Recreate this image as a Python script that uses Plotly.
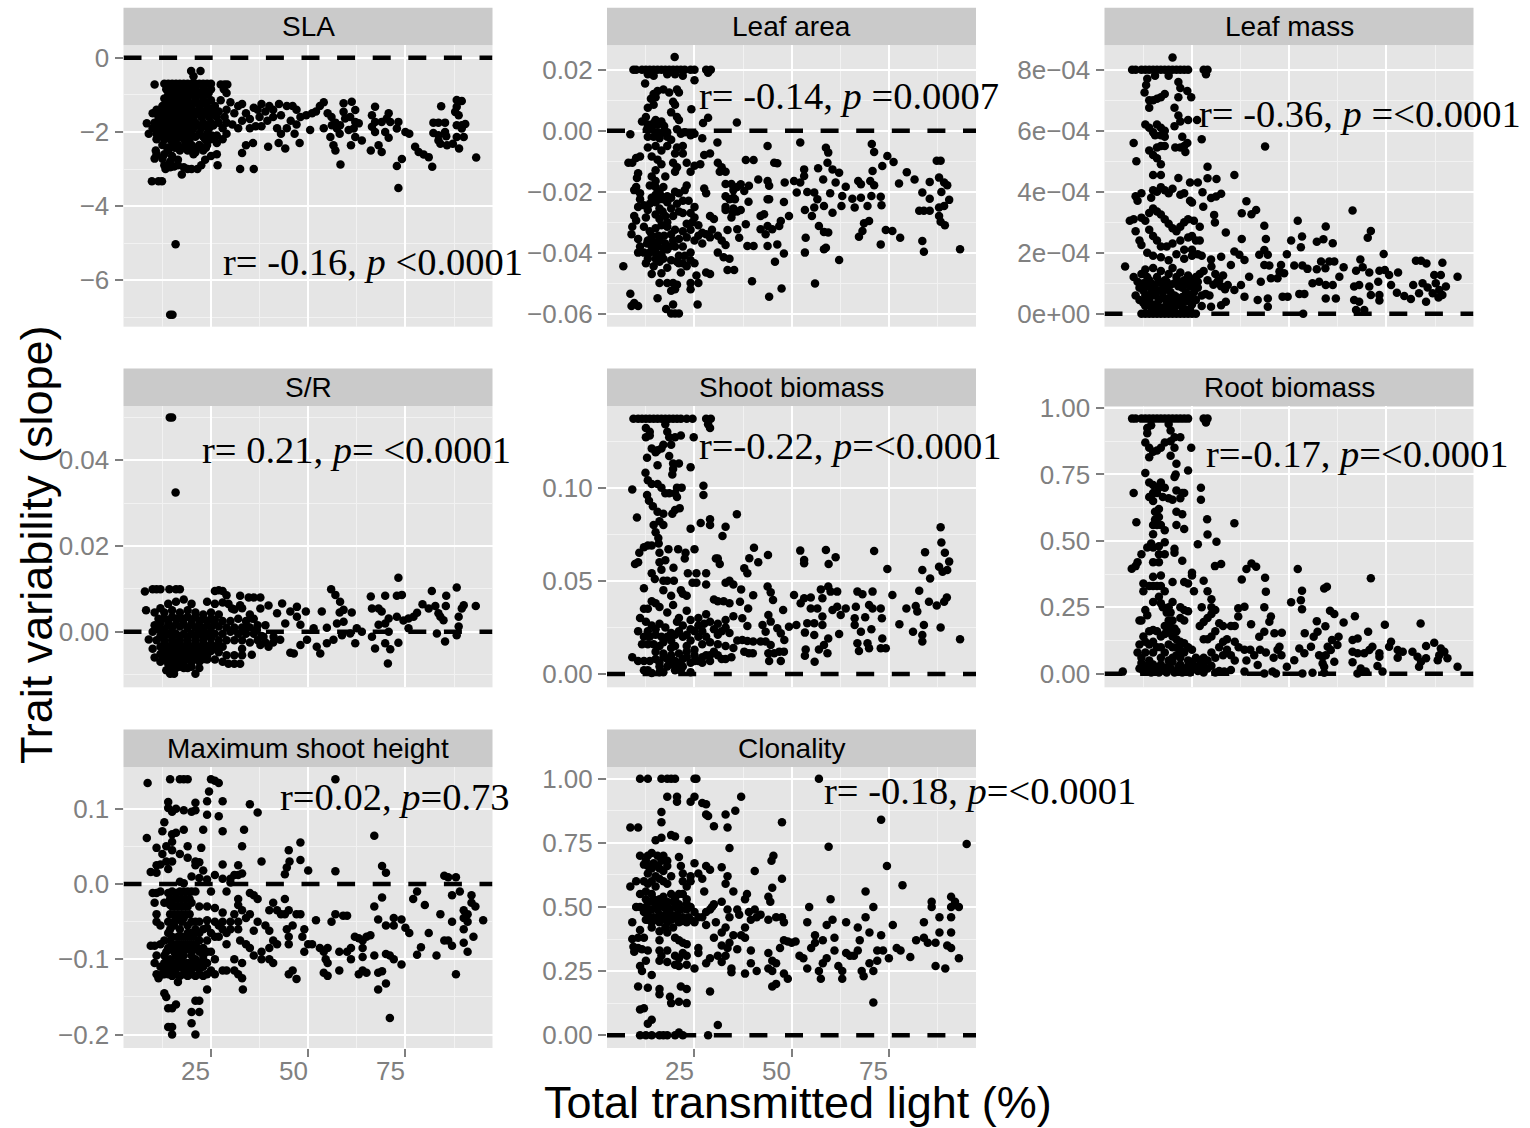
import plotly.graph_objects as go

X_TICKS = [25, 50, 75]
X_MINOR = [12.5, 37.5, 62.5, 87.5]

sla = [(15.9,-5.03),(14.5,-6.93),(15.1,-6.93),(19.9,-.36),(22.3,-.36),(20.5,-.5),
(10.5,-.72),(13,-.7),(14,-.7),(15,-.7),(16,-.7),(17,-.7),(18,-.7),(19,-.7),(20,-.7),(21,-.7),(22,-.7),(23,-.7),(24,-.7),(25,-.7),(27.5,-.72),(28.5,-.72),(29.2,-.72),
(13.5,-.85),(15,-.85),(16.5,-.85),(18,-.85),(19.5,-.85),(21,-.85),(23,-.85),(25,-.85),(28.3,-.85),(29,-.95),
(14,-1),(15.5,-1),(17,-1),(18.5,-1),(20,-1),(22,-1),(24,-1),(13,-1.1),(14.5,-1.15),(16,-1.15),(17.5,-1.15),(19,-1.15),(21,-1.15),(23,-1.15),(25,-1.15),(27.5,-1.15),
(12.5,-1.3),(14,-1.3),(15.5,-1.3),(17,-1.3),(18.5,-1.3),(20,-1.3),(22,-1.3),(24,-1.3),(26,-1.3),(11,-1.4),(10,-1.5),(12,-1.45),(13.5,-1.45),(15,-1.45),(16.5,-1.45),(18,-1.45),(19.5,-1.45),(21,-1.45),(23,-1.45),(25,-1.45),(27,-1.45),
(11.5,-1.6),(13,-1.6),(14.5,-1.6),(16,-1.6),(17.5,-1.6),(19,-1.6),(20.5,-1.6),(22.5,-1.6),(24.5,-1.6),(26.5,-1.6),(28.5,-1.6),(8.5,-1.77),(10.5,-1.75),(12,-1.75),(13.5,-1.75),(15,-1.75),(16.5,-1.75),(18,-1.75),(19.5,-1.75),(21,-1.75),(23,-1.75),(25,-1.75),(27,-1.75),(29,-1.75),
(10,-1.9),(11.5,-1.9),(13,-1.9),(14.5,-1.9),(16,-1.9),(17.5,-1.9),(19,-1.9),(20.5,-1.9),(22.5,-1.9),(24.5,-1.9),(28,-1.9),(9,-2.05),(11,-2.05),(12.5,-2.05),(14,-2.05),(15.5,-2.05),(17,-2.05),(18.5,-2.05),(20,-2.05),(22,-2.05),(24,-2.05),(26.5,-2.1),(29,-2.05),
(11,-2.2),(13,-2.2),(14.5,-2.2),(16,-2.2),(18,-2.2),(19.5,-2.2),(23.5,-2.2),(25,-2.2),(28,-2.2),(12.5,-2.35),(15,-2.35),(16.5,-2.35),(18.5,-2.35),(20,-2.35),(22,-2.35),(24,-2.35),(26.5,-2.3),(10.8,-2.5),(14,-2.5),(17,-2.5),(19,-2.5),(21,-2.55),(23,-2.5),(11,-2.6),(13,-2.6),(15,-2.65),(20.5,-2.6),(25,-2.65),(26.5,-2.6),
(10.5,-2.72),(12.5,-2.72),(14.5,-2.8),(16.5,-2.75),(23.5,-2.75),(13,-2.9),(13.3,-3),(16.5,-2.9),(18,-2.95),(20,-3),(21.5,-3),(22.5,-2.9),(9.8,-3.33),(11.5,-3.33),(12.4,-3.33),(17.5,-3.15),
(14.7,-.92),(16.2,-.94),(17.8,-.92),(19.2,-.93),(20.8,-.95),(22.5,-.93),(24.4,-.95),(13.5,-1.22),(15,-1.22),(16.7,-1.23),(18.2,-1.22),(19.7,-1.23),(21.5,-1.22),(23.4,-1.23),(12.8,-1.52),(14.3,-1.53),(15.7,-1.52),(17.2,-1.53),(18.8,-1.52),(20.3,-1.53),(22,-1.52),(24,-1.53),(26,-1.52),(12.3,-1.83),(13.8,-1.83),(15.3,-1.83),(16.8,-1.82),(18.3,-1.83),(19.8,-1.83),(21.7,-1.83),(23.7,-1.83),(25.6,-1.83),(11.8,-2.12),(13.3,-2.12),(14.8,-2.13),(16.4,-2.12),(17.8,-2.13),(19.4,-2.12),(21,-2.13),(23,-2.13),(25.2,-2.1),(13.7,-2.42),(15.7,-2.43),(17.7,-2.42),(19.6,-2.43),(21.5,-2.42),(23.7,-2.43),(14.5,-2.95),(15.5,-2.93),(19,-3),
(26.7,-2.9),(32.5,-3),(36,-3),(33,-2.57),(34,-2.36),(35.8,-2.3),(39.7,-2.4),(42.4,-2.3),(44.1,-2.45),(47.8,-2.3),(58.3,-2.88),
(29,-1.4),(30,-1.2),(31,-1.5),(32,-1.3),(33,-1.25),(34,-1.5),(35,-1.65),(36,-1.35),(37,-1.4),(38,-1.25),(39,-1.45),(40,-1.3),(41,-1.4),(30.5,-1.8),(32,-1.9),(33,-1.7),(35,-1.9),(36.5,-1.85),(38,-1.85),(37.5,-1.6),(39.5,-1.7),(41,-1.6),(42.5,-1.25),(43,-1.55),(44.5,-1.3),(46,-1.3),(47,-1.4),(42,-1.9),(43,-2.05),(44.5,-1.9),(45.5,-1.7),(47,-1.8),(46.5,-2.05),(48,-1.6),(49.5,-1.55),(50.5,-1.95),(51,-1.5),(52,-1.45),(53,-1.3),(54,-1.2),(55,-1.5),(54,-1.9),(56,-1.6),(57,-1.75),
(60.8,-1.6),(62.1,-1.73),(63,-1.77),(61.7,-1.91),(60.4,-1.95),(59.1,-1.23),(59.1,-1.46),(59.5,-1.64),(58.2,-1.82),(57.4,-1.91),(56.1,-1.82),(55.7,-2.14),(56.5,-2.36),(57,-2.5),(58.1,-2.05),(61.2,-1.19),(62.1,-1.41),(63.8,-2.23),(62.1,-2.14),(61,-2.36),(70.7,-1.5),(70.2,-1.64),(71.1,-1.73),(69.8,-2),(70.7,-2.16),(68.9,-1.73),(67.2,-1.32),(66.4,-1.55),(67.2,-1.73),(66.4,-1.86),(67.2,-2),(68.1,-2.36),(68.9,-2.54),(66.1,-2.5),
(72.8,-2.92),(74.1,-2.73),(73.2,-3.51),(72.8,-1.91),(73.2,-1.73),(75,-2),(76,-2.05),(77.5,-2.4),(78.4,-2.54),(79.7,-2.61),(81,-2.68),(81.9,-2.94),(84.2,-1.31),(82.2,-1.75),(83.5,-1.75),(85.2,-1.75),(82.2,-2.03),(83.5,-2.09),(83.5,-2.23),(84,-2.32),(85.2,-2),(85.5,-2.12),(85.7,-2.36),(87.2,-2.32),(88.8,-2.45),(88.2,-1.14),(89.5,-1.17),(88.2,-1.32),(87.8,-1.46),(88.7,-1.55),(88.2,-1.82),(89.5,-1.82),(90.4,-1.79),(89.5,-1.91),(88.2,-2.14),(90,-2.14),(93.2,-2.69)]

leaf_area = [(19.9,.0242),(9.3,.02),(10,.02),(11.5,.02),(12.5,.02),(13.5,.02),(14.5,.02),(15.5,.02),(16.5,.02),(17.5,.02),(18.5,.02),(19.5,.02),(20.5,.02),(21.5,.02),(22.5,.02),(24,.02),(25,.02),(28,.02),(29.2,.02),(28.5,.019),(13,.0185),(14.5,.018),(18,.0185),(20,.0185),(22,.018),(25,.0165),(12.3,.0155),
(17,.0135),(15.5,.013),(14.5,.012),(18.5,.0125),(20.5,.0135),(21,.0125),(13.8,.0105),(15,.011),(19.5,.0095),(20,.0085),(13,.0075),(14.5,.0085),(24.2,.007),(12.5,.0045),(15,.0035),(19,.006),(20.5,.0045),(21,.0035),(28.5,.0042),(27.2,.0025),(35.9,.0027),
(11.5,.003),(13,.002),(14.5,.0025),(15.5,.002),(16.5,.003),(17.2,.0015),(12.8,.0005),(14,.0005),(15.5,-.0005),(17,-.0005),(18,-.0005),(20.5,.0005),(21.5,-.001),(22.5,-.0005),(24,-.0015),(25,-.001),(8.5,-.0012),(13,-.002),(14.5,-.002),(16,-.0025),(18,-.002),(19,-.003),(27,-.0025),(30.9,-.0039),(20.5,-.0055),(22,-.005),
(13,-.0055),(15,-.005),(16.5,-.0065),(18,-.005),(29,-.0075),(27.5,-.008),(20,-.0075),(22,-.0075),(10,-.009),(11,-.0085),(8,-.0105),(9,-.0105),(14,-.0085),(15.5,-.0095),(16.5,-.011),(19.5,-.0105),(20.5,-.012),(23,-.0105),(25,-.0115),(26.5,-.011),(24,-.0135),(20,-.0135),
(31,-.0105),(32,-.012),(33,-.0135),(31.5,-.0135),(10.5,-.014),(10.2,-.0155),(14,-.015),(15,-.013),(15,-.0165),(17.5,-.015),(9.5,-.0195),(10,-.0185),(11,-.0205),(13.5,-.018),(15,-.0185),(16,-.02),(17,-.0185),(18,-.0215),(19,-.022),(20,-.02),(21,-.0205),(22.5,-.0195),(23,-.018),(27.5,-.019),(28,-.0205),(33,-.0175),(34.5,-.0175),(35,-.0195),(36,-.0185),
(11,-.0225),(12,-.0245),(13.5,-.024),(15,-.0235),(16,-.0225),(17,-.0225),(18,-.0235),(22,-.023),(23.5,-.023),(10.5,-.025),(13,-.026),(16,-.0255),(25,-.025),(33,-.0215),(34,-.0225),(35,-.022),(33,-.025),(35,-.0255),(9.5,-.028),(10,-.0295),(12.5,-.0285),(15,-.0275),(16,-.029),(18,-.03),(19.5,-.028),(21,-.0265),(22,-.027),(24,-.027),(25,-.0285),(29,-.028),(30,-.029),(33,-.026),(36,-.0265),(34.5,-.0285),
(9,-.0315),(8.8,-.034),(12,-.0315),(13.5,-.033),(15,-.032),(16.5,-.031),(18,-.0315),(20,-.0325),(22,-.033),(24,-.0325),(26,-.031),(27,-.0335),(10.5,-.0355),(11,-.038),(13,-.036),(14.5,-.0365),(16,-.036),(17.5,-.037),(19.5,-.036),(21,-.0355),(23,-.035),(25,-.036),(27,-.037),(29,-.035),(31,-.0345),(32,-.036),(33,-.0375),(10.5,-.04),(12,-.04),(13.5,-.04),(15,-.04),(16.5,-.0405),(18,-.039),(21,-.041),(22.5,-.041),(24,-.04),(31,-.04),(32.5,-.0415),(34,-.042),
(12.5,-.0435),(14.5,-.0445),(16,-.043),(18,-.045),(21,-.0435),(23,-.0445),(25,-.0435),(6.7,-.0445),(14,-.047),(16.5,-.0468),(21.5,-.0465),(28,-.0465),(29,-.047),(25.5,-.0475),(16,-.05),(18,-.05),(19.5,-.05),(20.5,-.0505),(24,-.05),(26,-.05),(19,-.0525),(20,-.052),(24,-.052),(8.5,-.0535),(15.5,-.055),(8.8,-.0575),(9.5,-.0565),(10.5,-.0575),(17.7,-.0585),(19.5,-.057),(25.8,-.057),(19,-.06),(20,-.06),(21,-.06),
(12.8,-.037),(14,-.038),(15.5,-.038),(17,-.0385),(18.5,-.038),(20,-.038),(22,-.038),(14,-.0345),(15.7,-.0345),(17.2,-.0345),(19,-.034),(13,-.042),(15,-.042),(17,-.042),(19,-.0425),(20.5,-.043),(22,-.0435),(24,-.0425),(17.5,-.028),(16.8,-.0265),(19,-.0255),(20.5,-.024),(14,-.022),(15,-.021),(16.5,-.0215),(28,-.034),(29.5,-.0325),(23,-.0305),(24.5,-.03),(26,-.0345),
(43.8,-.005),(52.2,-.0039),(58.8,-.0056),(59.4,-.0072),(70.6,-.0044),(71.2,-.007),(74.6,-.0083),(73.3,-.0116),(76.2,-.0103),(79.6,-.0136),(81.6,-.016),(77.6,-.0173),(70.8,-.0132),(70.2,-.0165),(71.2,-.0179),(67.1,-.0165),(67.8,-.0176),(63.9,-.0184),(63,-.0214),(65.6,-.0223),(67.8,-.022),(70.5,-.0214),(72.9,-.0217),(66.2,-.0252),(69.5,-.0247),(73.1,-.0245),(62.8,-.0247),(69.9,-.0296),(68.6,-.0304),(68.2,-.0329),(67.3,-.0348),(74.2,-.0326),(75.9,-.0329),(77.9,-.0351),(72.9,-.0373),(83.6,-.0203),(85.5,-.0168),(85.5,-.0223),(87.3,-.0099),(88.3,-.0099),(87.9,-.0154),(89.2,-.017),(90,-.0179),(88.5,-.0201),(90.5,-.0227),(89.2,-.0247),(87.9,-.0252),(82.8,-.0263),(84,-.0263),(85.5,-.0263),(87.9,-.028),(88.3,-.0299),(89.4,-.031),(83.6,-.0362),(84,-.0397),(93.3,-.0389),
(62.2,-.0424),(58.8,-.0384),(58.3,-.0389),(57,-.0313),(58.3,-.0332),(59.4,-.0334),(53.6,-.0351),(53.4,-.04),(56,-.0501),(47.4,-.0518),(44.2,-.0545),(45.7,-.043),(48,-.0403),(46.3,-.0373),(43.8,-.0378),(39.8,-.0494),(49.3,-.028),(48,-.0234),(44.2,-.0225),(43.8,-.0225),(48.2,-.017),(43.8,-.0165),(44.2,-.0181),(41.4,-.016),(38.2,-.0096),(40.2,-.0096),(45.5,-.0105),(46.3,-.0107),(50.6,-.0165),(52.2,-.017),(53.2,-.0127),(53.2,-.0149),(51.3,-.0203),(56.8,-.0123),(58.1,-.016),(59.2,-.0105),(60.5,-.0127),(62.2,-.0138),(61.3,-.017),(59.9,-.0205),(54,-.0201),(55.8,-.0203),(56.6,-.0225),(58.3,-.0247),(60.5,-.0269),(53.4,-.026),(55.2,-.028),(55.8,-.0252),
(36.9,-.0176),(37.8,-.0198),(39,-.0181),(35.4,-.0225),(36.9,-.026),(38.9,-.0233),(34.8,-.0269),(38.2,-.0307),(36,-.0323),(36.5,-.0351),(38.6,-.0378),(40.2,-.0378),(33.5,-.0326),(42.9,-.0274),(42,-.028),(42,-.0323),(43.8,-.0313),(45,-.0323),(43.3,-.034),(46.8,-.0313),(47.2,-.0296),(33.5,-.0457),(35.2,-.0457)]

leaf_mass_e4 = [(20,8.4),(9.6,8),(10.5,8),(12,8),(13,8),(14,8),(15,8),(16,8),(17,8),(18,8),(19,8),(20,8),(21,8),(22,8),(23,8),(24,8),(28,8),(29,8),(28.6,7.85),(13.5,7.7),(15.5,7.8),(19,7.8),(21.5,7.6),(13.2,7.5),(12.8,7.25),(14,7),(15,7),(16,7.05),(17,7.1),(18,7.2),(22,7.4),(21.5,7.1),(23.8,7.3),(24.8,7.1),(14,6.75),
(20.5,6.75),(21.5,6.5),(22,6.3),(20.5,6.15),(24,6.35),(13,6.2),(14,6.1),(15,5.95),(16,6.2),(17,6.1),(18,6),(15.5,5.85),(17,5.85),(18,5.8),(22.5,5.8),(10,5.6),(16,5.45),(17,5.5),(18,5.5),(20.7,5.45),(22,5.45),(23,5.5),(23.8,5.6),(23.3,5.3),(14,5.35),(15,5.2),(16,5.1),(17,4.9),(10.7,5),(26.3,6.35),(15,4.55),(17,4.55),(21.5,4.45),(24.5,4.3),
(15,4.05),(16,4),(17,4.15),(18,4.05),(19,3.95),(20,4.1),(10.5,3.85),(11,3.7),(12,3.95),(14.5,3.8),(22,3.9),(23,3.95),(24.5,3.7),(25,3.65),
(9,3.05),(10,3.1),(12,3.15),(13,3.05),(14,3.3),(15,3.45),(16,3.35),(17,3.25),(18,3.1),(19,2.95),(20,2.8),(22,2.85),(23,3),(24,3.1),(25.5,3.05),(27,2.85),(10.5,2.7),(14,2.75),(21,2.7),(25,2.55),(26,2.4),(27,2.4),
(11.5,2.4),(12,2.25),(15,2.55),(16,2.4),(17,2.2),(18.5,2.2),(20,2.3),(22,2.4),(24,2.5),(23,2.1),(25,2.1),(13.5,2),(15,1.9),(17,1.85),(19,1.75),(21,1.95),(23,1.8),(25,1.9),(26.5,1.95),(27.5,1.9),
(7.8,1.55),(10,1.2),(11,1.05),(12,1.3),(13,1.45),(14,1.1),(15,1.5),(16,1.2),(17,1.4),(18,1.1),(19,1.3),(20,1.5),(21,1.2),(22,1.35),(23,1.1),(24,1.25),(25,1.1),(26,1.2),(27,1.3),(28,1.4),(29,1.1),(30,1.55),(31,1.3),(32,1.1),(33,1.25),(11.5,.85),(12.5,.75),(13.5,.9),(14.5,.7),(15.5,.95),(16.5,.75),(17.5,.95),(18.5,.8),(19.5,.95),(20.5,.6),(21.5,.9),(22.5,.85),(23.5,.7),(24.5,.9),(25.5,.7),(26.5,.85),(27.5,.6),(28.5,.65),(29.5,.6),(30.5,.95),(31.5,1.05),(32.5,.9),(33.5,.8),
(10.5,.6),(11.5,.45),(12.5,.35),(13.5,.5),(14.5,.2),(15.5,.3),(16.5,.45),(17.5,.55),(18.5,.35),(19.5,.15),(21.5,.3),(22.5,.2),(23.5,.4),(24.5,.15),(26,.45),(27.5,.25),(12,0),(13,0),(14,0),(15,0),(16,0),(17,0),(18,0),(19,0),(20,0),(21,0),(22,0),(23,0),(24,0),(25,0),(26,0),
(12.5,1),(13.5,1.2),(14.5,1),(15.5,.6),(16.5,1.05),(17.5,.7),(18.5,1.05),(19.5,.7),(20.5,1),(21.5,1.05),(22.5,.55),(23.5,1),(24.5,.55),(25.5,.9),(26.5,1.05),(13,.6),(14,.45),(15,.75),(16,.3),(17,.2),(18,.5),(19,.5),(20,.35),(21,.55),(22,.4),(13,.25),(16,.15),(18,.15),(20.5,.2),(23,.15),(25,.3),
(29,4.82),(26.5,4.3),(29,4.44),(31.3,4.42),(27.7,3.98),(29.9,3.79),(31.2,3.84),(32.5,3.93),(35.9,4.55),(27.5,5.72),(43.8,5.48),(27.9,3.51),(30.7,3.24),(30.9,2.99),(33.7,2.66),(39,3.69),(37.8,3.29),(40.3,3.26),(41.5,3.4),(43.6,2.88),(44,2.45),(37.8,2.45),(35.9,2.04),(37.2,1.93),(38.5,1.76),(35,1.6),(32.5,1.87),(29.9,1.78),(43.6,2.09),(42.3,1.93),(44.5,1.93),(43.6,1.6),(44.9,1.58),(47.9,1.6),(47.5,1.38),(49.4,1.95),(50.5,2.4),(53.3,2.53),(52.2,3.05),(53,2.18),(51.3,1.58),(53.4,1.58),(54.7,1.47),(57.1,2.36),(58.8,2.44),(61.2,2.31),(59.4,2.86),(58.2,1.71),(60.3,1.71),(61.6,1.71),(64,1.52),(57.1,1.46),(59.3,1.49),(66.3,3.38),(70.2,2.49),(71,2.71),(68.3,1.78),(67.2,1.41),(68.9,1.52),(70.6,1.35),(74.3,1.96),(73.2,1.41),(74.6,1.43),(72.9,1.05),(75.7,1.27),(78,1.35),(76.2,.94),(77.7,.69),(79.6,.58),(81.3,.48),(81.9,.94),(83.4,.67),(84.3,1),(85.6,.86),(82.6,1.74),(83.9,1.74),(85.3,1.65),(85.2,.39),(89.4,1.67),(87.3,1.27),(89,1.27),(87.7,1),(90.3,.89),(88.6,.78),(86.9,.67),(89.4,.61),(88.4,.53),(93.3,1.21),
(34.2,.94),(37.6,.94),(39.7,1.21),(42.7,1.05),(45.3,1.16),(47,1.16),(48.7,1.33),(35.9,.78),(38.5,.56),(41.9,.45),(44.5,.5),(48.3,.56),(49.6,.56),(29.9,.23),(32.5,.28),(33.7,.39),(44.5,.23),(52.6,.65),(53.9,.65),(56,1),(57.7,1.05),(59.4,.94),(61.2,.94),(62.9,1.21),(59.4,.5),(62,.5),(66.7,.89),(68,.94),(66.7,.45),(68,.39),(70.6,.89),(71,.61),(73.2,.61),(73.2,.43),(67.2,.12),(69.3,.12),(53.6,0)]

sr = [(15.9,.0325),(14.4,.05),(15,.05),(8,.0094),(10,.0099),(11,.0099),(12,.0099),(14.3,.0099),(16,.0099),(17,.0099),(26,.0095),(27,.0097),(28,.0095),(29,.0085),(8.3,.005),(10.5,.0045),(12,.0055),(14,.0065),(16,.007),(18,.0075),(20,.0065),(24,.007),(26,.0065),(28,.0068),(29.5,.0065),
(11.5,.003),(13,.0045),(15,.005),(17,.0045),(19,.005),(21,.0045),(23,.004),(25,.0045),(27,.004),(31,.0052),(33,.0055),(35,.004),(10.5,.0015),(12,.002),(14,.0025),(16,.003),(18,.003),(20,.0028),(22,.0025),(24,.0025),(26,.0028),(28,.0025),(30,.0025),(32,.003),(34,.0025),(36,.003),(10,0),(11.5,.0005),(13,.0005),(15,.001),(17,.0012),(19,.0008),(21,.001),(23,.0005),(25,.001),(27,.0012),(29,.001),(31,.001),(33,.001),(35,.001),(37,.0015),(39,.0015),
(12,-.001),(14,-.0005),(16,-.0005),(18,-.0005),(20,-.0005),(22,-.0005),(24,-.0005),(26,-.0005),(28,-.0005),(30,0),(32,-.0005),(34,-.0005),(36,-.0005),(38,-.001),(9,-.0018),(11,-.002),(13,-.002),(15,-.002),(17,-.002),(19,-.002),(21,-.002),(23,-.002),(25,-.0015),(27,-.002),(29,-.002),(31,-.002),(33,-.002),(35,-.0025),(37,-.002),(39,-.0025),(41,-.0025),
(10,-.004),(12,-.0035),(14,-.0035),(16,-.004),(18,-.0035),(20,-.0035),(22,-.0035),(24,-.0035),(26,-.0035),(28,-.0035),(33,-.004),(10.5,-.006),(12,-.0052),(14,-.0055),(16,-.0055),(18,-.0055),(20,-.0055),(22,-.0055),(24,-.0055),(29,-.0055),(31,-.0055),(33,-.0055),(12,-.007),(14,-.0075),(16,-.007),(18,-.0072),(20,-.007),(22,-.007),(24,-.0065),(26,-.0065),(28,-.007),(29.5,-.0075),(31,-.0075),(32.5,-.0075),(13.5,-.009),(14.5,-.0098),(15.5,-.0098),(16,-.0085),(19,-.0085),(21,-.0098),(22,-.0085),
(13,.0032),(15,.0035),(17,.0032),(19,.0035),(21,.0035),(23,.003),(25,.003),(13,-.0008),(15,-.0012),(17,-.0012),(19,-.0012),(21,-.0012),(23,-.0012),(25,-.001),(13,-.0028),(15,-.0028),(17,-.0028),(19,-.0028),(21,-.0028),(23,-.0028),(25,-.0028),(27,-.003),(13,-.0045),(15,-.0045),(17,-.0045),(19,-.0045),(21,-.0045),(23,-.0045),(25,-.0045),(27,-.0048),(13,-.0064),(15,-.0064),(17,-.0064),(19,-.0064),(21,-.0064),(23,-.0064),(14,.0015),(16,.0018),(18,.0018),(20,.0018),(22,.0015),(24,.0015),(26,.0018),(15,-.0082),(17,-.0082),(18,-.0085),(20,-.0082),(14.7,-.0085),
(37.7,.008),(36,.008),(34.7,.008),(32.5,.0084),(39.8,.0061),(37.7,.0054),(35.5,.0031),(32.5,.0062),(30.4,.0054),(34.3,.0012),(36.8,.0004),(42,.0043),(44.1,.0019),(41.1,-.0012),(39.8,-.0035),(37.7,-.0031),(35.5,-.0054),(42.8,-.0019),(38.5,-.0012),(48,.0016),(47.1,.0035),(45.4,.0047),(43.3,.0066),(47.1,.0058),(46.3,-.0051),(45.4,-.0049),(51.4,.0008),(49.7,-.0019),(48,-.0031),(49.4,.0047),(53.1,-.0051),(52.2,-.0035),(53.5,.0047),(55.9,.0099),(57,.0086),(58.2,.007),(61.2,.0045),(59.1,.0051),(58.1,.0045),(63.8,0),(62.5,.0008),(62.1,-.0027),(59.1,.0023),(57.4,.0019),(54.8,.0009),(60.8,-.0004),(58.7,-.0008),(56.5,-.0019),(54.8,-.0027),
(73.2,.0126),(88.2,.0103),(81.8,.0095),(85.5,.0084),(93.1,.006),(90,.0062),(89.5,.0054),(88.7,.0035),(88.7,.0012),(88.2,-.0008),(85.2,-.0023),(83.1,-.0004),(81,.0054),(82.7,.006),(79.4,.0064),(85.4,.006),(84,.0035),(84.8,.0027),(83.5,.0043),(78,.0044),(77.1,.0035),(75.8,.0031),(74.5,.0026),(75.8,.0008),(74.1,.0086),(72.8,.0084),(69.8,.0084),(66.1,.0082),(66.4,.0054),(68.1,.0054),(68.9,.0047),(70.7,.0031),(72.8,.0035),(68.1,.0016),(69.8,.0019),(70.7,0),(66.4,-.0012),(67.2,-.0039),(69.8,-.0027),(71.1,-.0041),(73.2,-.0026),(70.5,-.0074)]

shoot = [(9.3,.137),(10.5,.137),(11.5,.137),(12.5,.137),(13.5,.137),(14.5,.137),(15.5,.137),(16.5,.137),(17.5,.137),(18.5,.137),(19.5,.137),(20.5,.137),(21.5,.137),(23,.137),(24.5,.137),(28,.137),(29.2,.137),(28.5,.134),(29,.132),(12.5,.132),(13.5,.13),(12.5,.127),(13.5,.128),(17.5,.134),(18,.13),(18.5,.127),(19,.123),(20,.127),(21.5,.128),(24.8,.127),(14,.121),(15,.119),(15.5,.12),(16.5,.121),(17,.123),(12.8,.116),
(18.5,.117),(19.5,.113),(19.5,.11),(19.3,.107),(21,.113),(24,.111),(15.5,.112),(12.4,.108),(13,.104),(14,.102),(15.5,.102),(16.5,.1),(17.5,.097),(18.5,.097),(20,.097),(20.5,.1),(21.7,.1),(27.3,.101),(27.3,.096),(9,.099),(12.8,.096),(13.3,.093),(14.3,.09),(20.5,.095),(19.3,.086),(20,.088),(21.2,.089),(15.5,.087),(16,.082),(17,.086),(17,.08),(10.2,.084),(14.5,.08),(15,.076),(15.7,.073),(24,.078),(26.6,.081),(29,.08),(29,.083),(33,.079),(32.2,.074),
(15.8,.07),(16,.065),(16,.06),(13,.069),(14,.069),(12,.068),(10.8,.065),(10.5,.06),(9.7,.059),(18.3,.067),(20.8,.067),(22.7,.065),(22.5,.062),(25,.067),(17.5,.061),(19.6,.057),(14,.054),(14.8,.051),(16.5,.056),(17,.05),(18,.05),(19.7,.05),(23.3,.054),(24.5,.049),(25.5,.054),(25.5,.049),(28,.054),(28,.048),(31,.062),(30.5,.062),(31.5,.059),(33,.049),(34,.05),(35,.048),(17,.045),(12,.046),(21.5,.045),(22,.043),(19,.042),(23,.042),
(30,.04),(31,.039),(32.5,.039),(34,.038),(12,.035),(13,.035),(14,.039),(15,.038),(16,.036),(18,.033),(19.5,.037),(21,.03),(23,.034),(24,.029),(26,.03),(28,.032),(11,.03),(12.5,.028),(14,.026),(16,.027),(17.5,.025),(19,.022),(20.5,.028),(22,.026),(24,.024),(26,.026),(27.5,.027),(29,.028),(31,.027),(33,.029),(35,.031),(10.5,.023),(12,.02),(13.5,.02),(15,.021),(16.5,.02),(18,.02),(20,.021),(22,.02),(24,.018),(26,.02),(28,.02),(30,.024),(32,.023),(34,.022),(36,.018),
(11.5,.016),(13,.016),(14.5,.016),(16,.015),(19,.014),(20,.015),(23,.015),(25,.013),(27,.016),(29,.017),(31,.016),(33,.015),(35,.014),(9,.009),(10.5,.007),(12,.007),(13.5,.007),(15,.008),(16,.006),(17,.009),(18,.008),(19,.006),(20,.007),(21,.006),(22,.008),(23,.009),(24,.006),(25,.007),(26,.007),(27,.009),(28,.01),(29,.01),(30,.012),(31,.01),(32,.008),(33,.008),(34.5,.009),(12,.002),(13,.002),(14,.0005),(16,.001),(17,.001),(20,.002),(21.5,.002),(24,.001),
(15,.012),(17,.011),(19,.01),(21,.011),(16,.004),(18,.004),(20,.004),(22,.004),(23,.012),(25,.01),(27,.006),(29,.007),(13,.023),(15,.024),(17,.017),(19,.018),(21,.023),(23,.021),(25,.023),(27,.023),(31,.021),(33,.025),
(35.9,.0857),(40.3,.0678),(39.1,.0621),(41.4,.0599),(43.9,.0639),(37.8,.0567),(38.6,.054),(37,.0454),(36.7,.0388),(38.8,.0352),(40.1,.0422),(43.8,.0469),(44.6,.0438),(45.2,.0397),(47.8,.0343),(37.3,.0299),(38.6,.0258),(42.5,.0263),(44,.0317),(44.6,.0281),(43.3,.0227),(46.3,.0245),(47.2,.0218),(48.1,.0182),(49.3,.0254),(51.2,.0263),(37.3,.0182),(38.6,.0177),(40.1,.0174),(37.8,.012),(39,.0111),(40,.0111),(42,.0174),(43.3,.0174),(44.6,.0156),(44,.0111),(44.2,.007),(45.5,.0111),(46.8,.012),(48,.012),(47.2,.007),
(50.6,.0424),(52.3,.0379),(53.2,.0406),(54.9,.0411),(52.2,.0662),(53.2,.0612),(53.2,.0594),(54.9,.0352),(56.6,.0352),(57.5,.0454),(59.4,.0469),(57.9,.0406),(60,.0442),(61.7,.0442),(58.8,.0665),(59.5,.059),(61.3,.0626),(60.5,.0343),(61.7,.0361),(62.6,.0317),(63.9,.0352),(57.9,.0308),(57.9,.0263),(55.8,.0272),(54,.0272),(53.4,.0222),(55.8,.0209),(53.6,.0132),(53.4,.0098),(55.9,.0066),(57,.0132),(58.3,.0156),(59.4,.0191),(59.2,.0111),(62.2,.0215),
(66.5,.0361),(66.9,.0442),(68.2,.0428),(70.8,.0442),(69.9,.037),(70.8,.0352),(72.9,.0352),(73.2,.0299),(68.9,.0304),(66.2,.0299),(66.2,.0263),(67.8,.0227),(70.5,.024),(66.9,.0165),(67.3,.0123),(69.5,.0165),(69.9,.0138),(73.3,.0191),(72.9,.0138),(74.2,.0138),(71.2,.066),(74.6,.0563),(75.9,.0424),(77.7,.0267),(79.5,.0352),(81.9,.0365),(82.3,.0335),(81.2,.0227),(82.8,.0447),(83.6,.0558),(84.3,.0653),(85.6,.0513),(85.3,.0388),(84,.0263),(83.6,.0209),(83.6,.0174),(87.3,.0367),(88.3,.025),(88.3,.0787),(88.5,.0705),(89.4,.0651),(90.5,.0603),(87.9,.0576),(88.8,.0549),(90,.0558),(89.2,.0388),(89.9,.0411),(93.3,.0186)]

root = [(9.6,.96),(10.5,.96),(12,.96),(13,.96),(14,.96),(15,.96),(16,.96),(17,.96),(18,.96),(19,.96),(20,.96),(21,.96),(22,.96),(23,.96),(24,.96),(28,.96),(29,.96),(28.6,.945),(13.5,.925),(14.5,.935),(19,.94),(19.5,.915),(13.5,.905),(20.5,.89),(22,.89),(19.5,.875),(13,.87),(14,.85),(15,.835),(16,.84),(17,.85),(18,.87),(24.8,.85),(20.5,.85),(14,.815),(19.5,.82),(21,.79),(20.8,.75),(20.5,.74),(24,.765),(13,.755),
(14,.72),(15,.71),(16.5,.7),(17,.72),(18,.7),(15,.68),(16,.68),(14,.665),(15,.65),(17.5,.665),(19,.66),(20,.655),(21,.69),(22,.66),(22.5,.68),(23,.68),(10,.68),(27.3,.7),(27.3,.655),(15.5,.61),(16.5,.62),(16.5,.59),(15.5,.58),(16,.56),(15,.56),(17,.56),(18,.54),(15,.525),(21,.61),(22.5,.6),(21,.56),(23,.545),(10.7,.57),
(14.5,.49),(15,.475),(13.5,.475),(16.5,.48),(16.5,.45),(16.5,.42),(15,.42),(18,.495),(18,.45),(20.5,.455),(20.5,.47),(12,.45),(11,.42),(10.5,.405),(9.5,.395),(22.5,.425),(25,.38),(25,.37),(23,.345),(24,.34),(28,.35),(15,.365),(17,.37),(12.5,.34),(12.5,.31),(14,.33),(15,.33),(16,.33),(17,.33),(18,.31),(20,.345),(25.5,.31),(29,.31),(30,.28),(30,.25),
(15,.27),(16.5,.29),(17,.265),(17.5,.25),(19,.25),(20,.27),(18.5,.23),(19.5,.23),(20,.2),(19,.2),(13,.24),(13.5,.22),(12,.2),(11.5,.2),(22,.25),(23,.24),(24,.235),(23,.2),(22,.21),(27.5,.25),(29,.21),(30,.225),(31,.24),(27,.18),(28,.195),
(32,.19),(33,.18),(35,.18),(36,.18),(31,.16),(30,.14),(28,.13),(29,.13),(11.5,.11),(12.5,.14),(14,.16),(15,.165),(16,.16),(17,.14),(18,.15),(19,.155),(20,.14),(21,.13),(22,.12),(23,.115),(24,.1),(11,.08),(12,.06),(13,.08),(14,.05),(15,.08),(16,.1),(17,.06),(18,.08),(19,.05),(20,.1),(21,.07),(22,.06),(23,.08),(24,.05),(25,.09),(26,.06),(27,.05),(28,.06),(29,.05),(30,.08),(31,.06),(32,.1),(33,.12),(34,.09),(35,.07),(36,.05),
(7.2,.008),(11.5,.02),(12.5,.01),(13.5,.03),(14.5,.005),(15.5,.02),(16.5,.005),(17.5,.02),(18.5,.005),(19.5,.02),(20.5,.005),(21.5,.025),(22.5,.005),(23.5,.02),(24.5,.005),(25.5,.02),(26.5,.01),(28,.005),(29,.02),(30,.03),(31,.005),(32,.01),
(12,.04),(13,.01),(14,.02),(15,.035),(16,.01),(17,.035),(18,.01),(19,.03),(20,.045),(21,.01),(22,.035),(23,.01),(24,.03),(25,.045),(26,.025),(27,.03),(28,.03),(13,.12),(15,.12),(17,.1),(19,.11),(21,.1),(18,.18),(19.5,.175),(20.5,.17),(21,.16),(14,.11),(20,.06),(22,.09),
(35.9,.566),(31.3,.497),(29,.524),(28.9,.581),(26.5,.487),(30.9,.405),(32.5,.413),(37.8,.355),(39,.394),(40.3,.415),(41.5,.403),(43.8,.361),(44,.309),(43.6,.25),(36.9,.246),(38.5,.252),(36.9,.215),(40.2,.186),(45.3,.215),(44.9,.196),(43.6,.158),(42.3,.139),(46.2,.152),(48.1,.154),(47.5,.102),(52.2,.394),(53.3,.312),(53,.277),(53.3,.243),(50.5,.269),(54,.152),(59,.321),(59.7,.327),(60.5,.237),(61.6,.225),(64,.193),(66.9,.216),(71,.359),(74.6,.184),(70.3,.158),(57.1,.198),(59.3,.179),(57.3,.158),(56.3,.139),(55.6,.102),(52.6,.095),(53.9,.077),(51.3,.051),(49.4,.026),(62.7,.139),(61,.127),(59.9,.102),(62.4,.108),(60.7,.089),(59.4,.07),(58.6,.064),(57.7,.07),(58.6,.039),(59,.026),(61.6,.045),(66.3,.127),(67.6,.133),(66.3,.083),(67.6,.077),(69.3,.077),(70.6,.089),(71.4,.102),(66.3,.043),(68.4,.02),(73.2,.077),(73.2,.064),(72.7,.029),(74,.008),(76.2,.12),(75.7,.102),(77.9,.089),(79.2,.083),(81.7,.083),(77.9,.06),(83.8,.189),(85.2,.104),(87.3,.117),(89,.095),(89.9,.083),(88.6,.07),(90.7,.058),(88.2,.051),(83,.064),(83.9,.045),(85.2,.058),(83.4,.026),(93.3,.026),
(33.3,.008),(35,.014),(38.5,.008),(41.9,.033),(43.6,.001),(45.7,.008),(46.6,.001),(53.4,.001),(56,.004),(59,.004),(67.6,.001),(69.7,.008),(33,.07),(34,.13),(36,.12),(37,.1),(38.5,.09),(40,.09),(39,.05),(41,.07),(42.5,.09),(44,.08),(46,.06),(48,.07),(47,.09)]

height = [(8.7,.134),(14.5,.139),(17,.139),(18,.139),(19,.139),(25,.139),(26,.137),(27,.134),(24.5,.123),(14,.109),(21,.108),(24,.11),(28,.11),(16,.1),(14,.101),(15,.096),(18,.098),(20,.096),(21,.098),(24,.092),(27,.09),(35,.106),(37,.095),(12.5,.07),(13,.082),(15,.066),(16,.068),(18,.072),(23,.072),(28,.07),(33.5,.072),(8.5,.061),(15,.056),(13.5,.05),(11,.048),(19,.05),(22.5,.048),(33,.05),(15,.045),(17,.04),(19,.035),(21,.03),(12.5,.04),(13.5,.03),(15,.03),(21,.025),(22,.029),(28,.026),(11,.025),(9.5,.016),(11,.015),(12,.026),(14,.02),(23,.018),(32,.025),(31,.012),(30,.007),(28,.007),(26,.012),(24,.006),(22,.008),(20,.01),(17,.003),(18,.001),(38,.03),(32,.012),(33,.014),(30,.002),(44,.013),(44.5,.022),(45,.045),(45.2,.03),(48,.055),(48,.032),(50,.018),(57,.017),(57,.139),(67,.064),(69,.024),(70,.015),(85,.011),(86,.009),(88,.009),
(10,-.012),(11,-.012),(12,-.01),(14,-.012),(15,-.01),(16,-.012),(17,-.01),(18,-.01),(19,-.01),(20,-.01),(21,-.01),(25,-.01),(29,-.01),(35,-.012),(36,-.015),(37,-.02),(44,-.02),(41,-.025),(32,-.02),(32,-.028),(10.5,-.025),(11,-.04),(13,-.025),(14.5,-.028),(16,-.03),(18,-.03),(20,-.025),(22,-.03),(24,-.03),(26,-.032),(28,-.038),(31,-.04),(33,-.035),(35,-.04),(40,-.035),(42,-.035),(11,-.05),(12,-.055),(14,-.05),(16,-.045),(18,-.045),(20,-.05),(22,-.05),(24,-.048),(26,-.05),(28,-.05),(30,-.05),(32,-.05),(34,-.045),(37,-.05),(39,-.055),(14,-.065),(15,-.07),(17,-.06),(19,-.065),(21,-.06),(23,-.06),(25,-.065),(27,-.07),(29,-.065),(32,-.06),(36,-.062),(40,-.062),(9.5,-.082),(10.5,-.082),(12,-.08),(14,-.085),(16,-.08),(18,-.08),(20,-.08),(22,-.075),(24,-.075),(26,-.07),(29,-.08),(32.5,-.075),(34,-.08),(35,-.085),(36,-.095),(38,-.09),(40,-.085),(41,-.075),(11,-.095),(10.5,-.105),(13,-.095),(14.5,-.1),(16,-.095),(18,-.095),(20,-.095),(22,-.09),(24,-.09),(26,-.1),(38,-.1),(40,-.1),(41,-.105),
(12,-.11),(14,-.12),(15,-.115),(16,-.12),(17,-.11),(18,-.12),(19,-.115),(20,-.12),(21,-.11),(22,-.12),(23,-.11),(24,-.12),(25,-.115),(26,-.12),(28,-.115),(29,-.115),(31,-.1),(31,-.115),(33,-.105),(32,-.12),(33,-.125),(11,-.12),(11.5,-.125),(12.5,-.12),(16.5,-.13),(24,-.14),(33.2,-.14),(13,-.145),(13.5,-.15),(14,-.165),(15,-.165),(16,-.16),(20,-.17),(22,-.17),(21,-.155),(22,-.155),(20,-.185),(21,-.2),(14,-.19),(15,-.19),(15,-.2),
(14.5,-.02),(15.5,-.02),(16.5,-.02),(17.5,-.02),(18.5,-.02),(19.5,-.02),(14.5,-.04),(15.5,-.04),(16.5,-.04),(17.5,-.04),(18.5,-.04),(19.5,-.04),(14.5,-.06),(15.5,-.055),(16.5,-.07),(17.5,-.07),(18.5,-.07),(19.5,-.07),(20.5,-.07),(13,-.075),(14.5,-.075),(15.5,-.09),(16.5,-.09),(17.5,-.09),(18.5,-.087),(19.5,-.087),(20.5,-.087),(21.5,-.085),(23,-.085),(13,-.105),(14,-.105),(15,-.105),(16,-.105),(17,-.1),(18,-.105),(19,-.105),(20,-.105),(21,-.1),(22,-.105),(23,-.1),(24,-.105),(13,-.12),(13,-.112),(15,-.122),(17,-.122),(19,-.122),(21,-.122),(23,-.122),(14,-.113),(16,-.113),(18,-.113),(20,-.113),(22,-.113),
(15,-.03),(17,-.03),(19,-.03),(15.5,-.05),(17.5,-.05),(19,-.055),(21,-.05),(15,-.08),(17,-.08),(19,-.08),(21,-.08),(23,-.095),(25,-.09),(13.5,-.09),(27,-.055),(28,-.06),(30,-.06),(24,-.058),(22,-.065),(20,-.065),
(43,-.04),(44,-.04),(45,-.035),(44.5,-.06),(46,-.055),(45,-.07),(42,-.08),(45,-.08),(47,-.04),(48,-.04),(49,-.06),(48.5,-.07),(49,-.09),(50,-.08),(51,-.08),(52,-.048),(53,-.085),(54,-.09),(55,-.085),(54.5,-.1),(55,-.105),(54,-.118),(55,-.122),(58,-.115),(57,-.04),(56,-.05),(59,-.042),(60,-.042),(58,-.09),(60,-.09),(61,-.085),(61,-.1),(62,-.07),(63,-.072),(64,-.075),(65,-.07),(66,-.068),(64,-.085),(64,-.097),(63,-.12),(64,-.115),(65,-.118),(45,-.12),(46,-.115),(47,-.126),(67,-.03),(68,-.047),(70,-.055),(69,-.018),(72,-.045),(72,-.055),(74,-.047),(75,-.058),(76,-.065),(67,-.095),(70,-.093),(71,-.095),(72,-.1),(74,-.107),(68,-.118),(69,-.116),(68,-.14),(70,-.132),(71,-.178),(77,-.02),(78,-.01),(80,-.028),(81,-.065),(79,-.084),(78,-.094),(83,-.095),(84,-.04),(85,-.075),(86,-.075),(87,-.082),(87,-.05),(87,-.015),(89,-.01),(88,-.12),(90,-.035),(90,-.045),(91,-.05),(92,-.025),(93,-.03),(91,-.04),(92,-.015),(90,-.078),(90,-.06),(91,-.09),(92.5,-.07),(95,-.048)]

clonality = [(11,1),(13,1),(16.5,1),(18,1),(19,1),(20,1),(25,1),(25.5,1),(57,1),(18,.93),(20.5,.93),(20.5,.91),(24,.91),(25,.93),(27,.905),(28,.9),(37,.93),(35.5,.875),(33,.86),(28,.86),(28.5,.855),(16.5,.87),(16.5,.83),(30,.815),(33.5,.81),(47.5,.83),(8.5,.81),(10.5,.81),(73,.84),(15,.76),(16.5,.77),(19,.78),(20,.775),(23.5,.76),(34,.73),(59.5,.735),(95,.745),(74.5,.66),
(11,.7),(13,.7),(14,.71),(15.5,.7),(17,.7),(18,.68),(12,.665),(14,.65),(16,.65),(18,.66),(21,.695),(21.5,.66),(22,.63),(13,.63),(15,.62),(17,.64),(19,.62),(25,.67),(28,.66),(29,.645),(32,.655),(24,.62),(26,.63),(27,.61),(33.5,.62),(10,.6),(8.5,.58),(13,.59),(15,.58),(17,.6),(22,.6),(23,.58),(24,.6),(33,.59),(40.5,.64),(47.5,.61),(78.5,.585),
(11,.55),(12.5,.56),(14,.55),(16,.53),(18,.52),(20,.53),(22,.55),(23,.53),(27.5,.56),(35,.56),(38.5,.55),(38,.53),(45,.575),(44,.54),(44.5,.52),(44.8,.68),(45.3,.7),(10,.5),(11,.5),(12.5,.5),(14,.49),(15.5,.49),(17,.5),(18.5,.49),(20,.5),(21.5,.49),(23,.49),(25,.48),(30,.51),(32,.52),(33.5,.49),(36,.49),(39,.48),(40.5,.49),(13,.47),(14.5,.46),(16,.47),(17.5,.47),(19,.47),(20.5,.47),(22,.46),(23.5,.46),(26,.46),(28,.48),(29,.49),(29.5,.5),(12.5,.45),(14,.44),(16,.44),(18,.44),(21,.44),(23,.44),(25,.44),(27,.46),(34,.46),(36.5,.47),(38,.42),(39.5,.45),(41,.46),(42,.47),(44,.45),(46,.46),(47.5,.46),(48,.44),(9,.44),
(12,.48),(13.5,.52),(15,.51),(16.5,.51),(18,.5),(19.5,.52),(21,.51),(23,.51),(24,.5),(13,.45),(15,.45),(17,.455),(19,.45),(20,.455),(22,.445),(24,.45),(12.5,.53),(14.5,.53),(17,.54),(19,.55),(21,.55),(12,.6),(14,.6),(16,.61),(18,.59),(14.5,.67),(16.5,.68),(12.5,.68),(15.5,.66),(13,.66),(19.5,.42),(17.5,.42),
(11,.41),(14,.42),(16,.405),(18,.4),(20,.38),(21,.37),(22,.36),(23,.355),(28,.43),(30.5,.44),(33,.42),(32,.4),(30,.38),(35,.39),(37,.39),(38,.38),(34,.36),(9,.375),(10.5,.38),(12,.38),(16,.37),(9.3,.345),(10.5,.34),(11.5,.335),(13,.33),(9.5,.325),(16,.33),(16.5,.31),(18,.33),(20,.31),(21,.3),(22,.32),(23,.31),(26,.34),(26,.32),(29,.3),(31,.31),(33,.31),(32,.35),(33.5,.34),(36,.335),(39.5,.33),(12.5,.29),(16,.29),(18,.285),(20,.275),(21,.27),(23,.275),(25,.26),(28,.28),(32,.285),(34.5,.26),(34.5,.245),(38,.24),(39.5,.28),(41,.25),(11,.27),(11.5,.25),(14,.235),(10.5,.19),(13,.185),(16,.18),(16,.16),(18.7,.15),(19,.125),(21,.13),(23,.125),(21.5,.19),(23,.18),(29,.17),(11,.1),(12,.105),(13,.045),(14,.06),(31,.04),
(11,0),(12.5,0),(14,0),(16,0),(17,0),(18,0),(20,0),(21,.01),(22,0),(28.5,0),
(44,.32),(45,.29),(46,.28),(44,.26),(45,.25),(47,.34),(48,.37),(49,.365),(50,.36),(51,.365),(48,.24),(49,.22),(45,.19),(46,.2),(52,.31),(53,.3),(54,.44),(54.5,.5),(54,.26),(55,.34),(56,.36),(56,.39),(57,.25),(57.5,.22),(58,.28),(58,.37),(59,.43),(59,.3),(60,.53),(60.5,.45),(61,.33),(61,.38),(62,.27),(63,.25),(63,.22),(64,.32),(64,.44),(65,.31),(66,.31),(67,.33),(67,.42),(67.5,.37),(68,.25),(68.5,.23),(69,.56),(69,.46),(70,.4),(70,.28),(71,.5),(71,.25),(72,.33),(72,.29),(71,.127),(73,.39),(73.5,.33),(75,.3),(76,.43),(77,.34),(78,.33),(80.5,.305),(82,.37),(84,.38),(84,.44),(85,.36),(86,.5),(86,.52),(87,.36),(87,.27),(88,.46),(88,.4),(89.5,.26),(90,.35),(91,.54),(91,.5),(91,.46),(91,.4),(91,.34),(92,.52),(93,.5),(93,.3)]

MINUS = "\u2212"
PANELS = [
    ("SLA", sla, [0,-2,-4,-6], ["0",MINUS+"2",MINUS+"4",MINUS+"6"], [-1,-3,-5,-7], (-7.25,.334), 123.5, 45.3, 326.7),
    ("Leaf area", leaf_area, [.02,0,-.02,-.04,-.06], ["0.02","0.00",MINUS+"0.02",MINUS+"0.04",MINUS+"0.06"], [.01,-.01,-.03,-.05], (-.0643,.028), 607, 45.3, 326.7),
    ("Leaf mass", [(x, y*1e-4) for x, y in leaf_mass_e4], [8e-4,6e-4,4e-4,2e-4,0], ["8e"+MINUS+"04","6e"+MINUS+"04","4e"+MINUS+"04","2e"+MINUS+"04","0e+00"], [7e-4,5e-4,3e-4,1e-4], (-.426e-4,8.8e-4), 1104.5, 45.3, 326.7),
    ("S/R", sr, [.04,.02,0], ["0.04","0.02","0.00"], [.05,.03,.01,-.01], (-.01298,.0527), 123.5, 406, 687.3),
    ("Shoot biomass", shoot, [.1,.05,0], ["0.10","0.05","0.00"], [.125,.075,.025], (-.00714,.1438), 607, 406, 687.3),
    ("Root biomass", root, [1,.75,.5,.25,0], ["1.00","0.75","0.50","0.25","0.00"], [.875,.625,.375,.125], (-.051,1.0075), 1104.5, 406, 687.3),
    ("Maximum shoot height", height, [.1,0,-.1,-.2], ["0.1","0.0",MINUS+"0.1",MINUS+"0.2"], [.05,-.05,-.15], (-.2178,.1554), 123.5, 767, 1048),
    ("Clonality", clonality, [1,.75,.5,.25,0], ["1.00","0.75","0.50","0.25","0.00"], [.875,.625,.375,.125], (-.05,1.0456), 607, 767, 1048),
]
STATS = [
    ("r= -0.16, <i>p</i> &lt;0.0001", 221, 262), ("r= -0.14, <i>p</i> =0.0007", 697, 96),
    ("r= -0.36, <i>p</i> =&lt;0.0001", 1197, 114), ("r= 0.21, <i>p</i>= &lt;0.0001", 200, 450),
    ("r=-0.22, <i>p</i>=&lt;0.0001", 697, 446), ("r=-0.17, <i>p</i>=&lt;0.0001", 1204, 454),
    ("r=0.02, <i>p</i>=0.73", 278, 797), ("r= -0.18, <i>p</i>=&lt;0.0001", 822, 791),
]
W, H = 1530, 1128
PANEL_W = 369
STRIP_H = 37.5
XR = (2.5, 97.4)
fx = lambda p: p / W
fy = lambda p: 1 - p / H

fig = go.Figure()
shapes, notes = [], []
for i, (name, pts, yt, ytl, ym, yr, left, top, bottom) in enumerate(PANELS, start=1):
    sx = "" if i == 1 else str(i)
    xa, ya = "x" + sx, "y" + sx
    fig.add_trace(go.Scatter(x=list(XR), y=[0, 0], mode="lines", xaxis=xa, yaxis=ya, hoverinfo="skip",
                             line=dict(color="black", width=4.5, dash="18px,17.6px"), showlegend=False))
    fig.add_trace(go.Scatter(x=[p[0] for p in pts], y=[p[1] for p in pts], mode="markers", xaxis=xa, yaxis=ya,
                             marker=dict(color="black", size=8.5, line=dict(width=0)), cliponaxis=False, showlegend=False))
    show_x = name in ("Maximum shoot height", "Clonality")
    fig.update_layout({
        "xaxis" + sx: dict(domain=[fx(left), fx(left + PANEL_W)], range=list(XR), anchor=ya, tickvals=X_TICKS, automargin=False,
                           showticklabels=False, ticks="outside" if show_x else "", ticklen=8, tickwidth=1.5, tickcolor="#7f7f7f",
                           showgrid=True, gridcolor="white", gridwidth=1.6, zeroline=False, showline=False,
                           minor=dict(tickvals=X_MINOR, showgrid=True, gridcolor="#f2f2f2", gridwidth=1, ticks="")),
        "yaxis" + sx: dict(domain=[fy(bottom), fy(top)], range=list(yr), anchor=xa, tickvals=yt, ticktext=ytl, automargin=False,
                           ticks="outside", ticklen=8, tickwidth=1.5, tickcolor="#7f7f7f", ticklabelstandoff=0,
                           tickfont=dict(family="Liberation Sans", size=26, color="#808080"),
                           showgrid=True, gridcolor="white", gridwidth=1.6, zeroline=False, showline=False,
                           minor=dict(tickvals=ym, showgrid=True, gridcolor="#f2f2f2", gridwidth=1, ticks="")),
    })
    shapes.append(dict(type="rect", xref="paper", yref="paper", x0=fx(left), x1=fx(left + PANEL_W),
                       y0=fy(top), y1=fy(top - STRIP_H), fillcolor="#cacaca", line=dict(width=0), layer="below"))
    notes.append(dict(text=name, xref="paper", yref="paper", x=fx(left + PANEL_W / 2), y=fy(top - STRIP_H / 2),
                      xanchor="center", yanchor="middle", showarrow=False,
                      font=dict(family="Liberation Sans", size=28, color="black")))
    if show_x:
        for t in X_TICKS:
            notes.append(dict(text=str(t), xref=xa, yref="paper", x=t, y=fy(1071), xshift=-15, xanchor="center", yanchor="middle",
                              showarrow=False, font=dict(family="Liberation Sans", size=26, color="#808080")))

for text, px, py in STATS:
    notes.append(dict(text=text, xref="paper", yref="paper", x=fx(px), y=fy(py), xanchor="left", yanchor="middle", showarrow=False,
                      font=dict(family="Liberation Serif", size=38.5, color="black")))
notes.append(dict(text="Trait variability (slope)", xref="paper", yref="paper", x=fx(36), y=fy(545), textangle=-90,
                  xanchor="center", yanchor="middle", showarrow=False, font=dict(family="Liberation Sans", size=45, color="black")))
notes.append(dict(text="Total transmitted light (%)", xref="paper", yref="paper", x=fx(798), y=fy(1102),
                  xanchor="center", yanchor="middle", showarrow=False, font=dict(family="Liberation Sans", size=45, color="black")))

fig.update_layout(width=W, height=H, margin=dict(l=0, r=0, t=0, b=0), paper_bgcolor="white", plot_bgcolor="#e5e5e5",
                  shapes=shapes, annotations=notes, showlegend=False)
fig.write_html("out.html", post_script="document.body.style.margin='0';", config={"displayModeBar": False})
